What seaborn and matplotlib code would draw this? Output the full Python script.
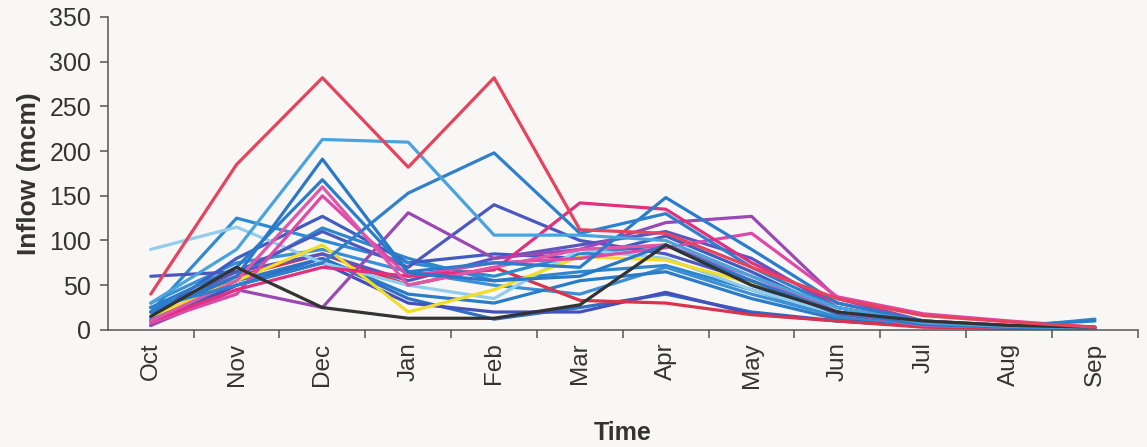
import matplotlib
matplotlib.use("Agg")
import matplotlib.pyplot as plt
import numpy as np
import pandas as pd
import seaborn as sns
from matplotlib.ticker import FixedLocator, NullFormatter

months = ["Oct", "Nov", "Dec", "Jan", "Feb", "Mar", "Apr", "May", "Jun", "Jul", "Aug", "Sep"]

# Monthly inflow (mcm) for each simulated year
year_01 = [12, 60, 114, 80, 55, 65, 72, 45, 15, 5, 3, 12]
year_02 = [30, 75, 90, 65, 50, 40, 70, 40, 15, 5, 3, 2]
year_03 = [25, 55, 80, 40, 30, 55, 65, 35, 12, 4, 2, 2]
year_04 = [10, 50, 80, 35, 12, 25, 40, 20, 10, 4, 2, 1]
year_05 = [5, 50, 75, 30, 20, 20, 42, 18, 10, 4, 2, 1]
year_06 = [20, 60, 85, 50, 70, 33, 30, 17, 10, 3, 2, 1]
year_07 = [20, 65, 85, 55, 80, 95, 110, 80, 25, 8, 4, 2]
year_08 = [15, 80, 127, 75, 85, 80, 105, 65, 20, 6, 3, 2]
year_09 = [20, 125, 100, 75, 60, 85, 95, 50, 15, 6, 3, 2]
year_10 = [90, 115, 75, 50, 35, 90, 80, 45, 18, 6, 3, 2]
year_11 = [15, 55, 95, 20, 45, 82, 78, 52, 20, 8, 4, 2]
year_12 = [60, 65, 110, 70, 140, 100, 85, 55, 18, 6, 3, 2]
year_13 = [5, 45, 25, 131, 80, 90, 120, 127, 35, 10, 4, 1]
year_14 = [8, 40, 150, 60, 75, 80, 92, 108, 37, 18, 10, 3]
year_15 = [10, 45, 70, 60, 67, 142, 135, 75, 30, 10, 5, 1]
year_16 = [10, 55, 160, 50, 70, 90, 95, 60, 20, 5, 3, 1]
year_17 = [25, 70, 168, 65, 75, 70, 148, 90, 30, 10, 5, 10]
year_18 = [25, 50, 75, 153, 198, 108, 130, 70, 25, 8, 4, 3]
year_19 = [20, 60, 191, 64, 55, 60, 95, 55, 20, 6, 3, 2]
year_20 = [30, 90, 213, 210, 106, 106, 100, 60, 25, 8, 4, 2]
year_21 = [15, 70, 25, 13, 13, 28, 95, 50, 20, 10, 5, 3]
year_22 = [40, 185, 282, 182, 282, 112, 108, 70, 35, 16, 9, 3]

series = {
    "Y01": year_01, "Y02": year_02, "Y03": year_03, "Y04": year_04,
    "Y05": year_05, "Y06": year_06, "Y07": year_07, "Y08": year_08,
    "Y09": year_09, "Y10": year_10, "Y11": year_11, "Y12": year_12,
    "Y13": year_13, "Y14": year_14, "Y15": year_15, "Y16": year_16,
    "Y17": year_17, "Y18": year_18, "Y19": year_19, "Y20": year_20,
    "Y21": year_21, "Y22": year_22,
}

colors = {
    "Y01": "#2f86cc", "Y02": "#3a8fd6", "Y03": "#2a7cc6", "Y04": "#2f6fc4",
    "Y05": "#4450bb", "Y06": "#d8344e", "Y07": "#5a56c0", "Y08": "#3f5cc2",
    "Y09": "#2f8ad2", "Y10": "#92cdee", "Y11": "#f2dc2a", "Y12": "#4a58c0",
    "Y13": "#9a48b4", "Y14": "#e048a8", "Y15": "#e0307e", "Y16": "#e056a8",
    "Y17": "#2a7ccc", "Y18": "#2f80cc", "Y19": "#2a78c8", "Y20": "#4aa3dc",
    "Y21": "#333333", "Y22": "#e6435c",
}

rows = []
for name, vals in series.items():
    for i, v in enumerate(vals):
        rows.append({"year": name, "month": i, "inflow": v})
df = pd.DataFrame(rows)

sns.set_style("white")
plt.rcParams["font.family"] = ["Liberation Sans", "DejaVu Sans"]

bg = "#f8f7f5"
fig = plt.figure(figsize=(11.47, 4.47), dpi=100, facecolor=bg)
ax = fig.add_axes([0.094, 0.262, 0.898, 0.700])
ax.set_facecolor(bg)

sns.lineplot(data=df, x="month", y="inflow", hue="year", palette=colors,
             hue_order=list(series.keys()), linewidth=2.3, legend=False,
             ax=ax, sort=False)

ax.set_xlim(-0.5, 11.5)
ax.set_ylim(0, 350)
ax.set_yticks(np.arange(0, 351, 50))
ax.set_xticks(range(len(months)))
ax.set_xticklabels(months, rotation=90, fontsize=17.5, color="#333333")
ax.xaxis.set_minor_locator(FixedLocator(np.arange(0.5, 11.6, 1.0)))
ax.xaxis.set_minor_formatter(NullFormatter())
ax.tick_params(axis="x", which="major", length=0, pad=9)
ax.tick_params(axis="x", which="minor", length=6, width=1.1, color="#555555", direction="out")
ax.tick_params(axis="y", length=6, width=1.1, color="#555555", direction="out",
               labelsize=18, labelcolor="#333333", pad=6)
ax.tick_params(bottom=True, left=True, which="both")

for side in ["top", "right"]:
    ax.spines[side].set_visible(False)
for side in ["left", "bottom"]:
    ax.spines[side].set_color("#555555")
    ax.spines[side].set_linewidth(1.1)

ax.set_xlabel("Time", fontsize=18, fontweight="bold", color="#333333", labelpad=24)
ax.set_ylabel("Inflow (mcm)", fontsize=19, fontweight="bold", color="#333333", labelpad=6)

fig.savefig("out.png", dpi=100, facecolor=bg)
